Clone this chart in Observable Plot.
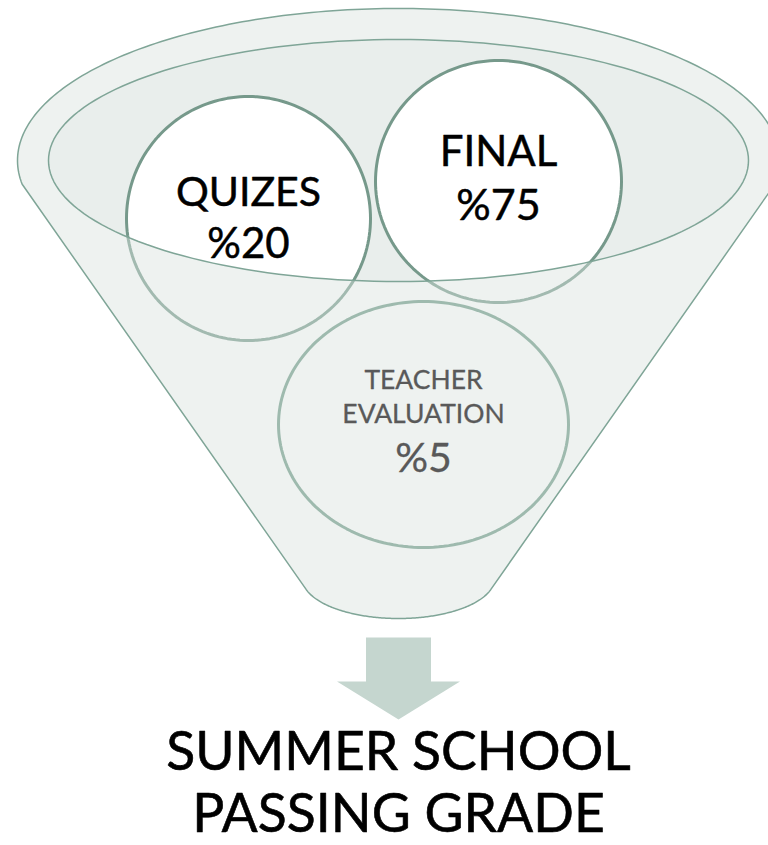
<!DOCTYPE html>
<html>
<head>
<meta charset="utf-8">
<script src="https://cdn.jsdelivr.net/npm/d3@7"></script>
<script src="https://cdn.jsdelivr.net/npm/@observablehq/plot@0.6"></script>
<style>
  html, body { margin: 0; padding: 0; background: #ffffff; overflow: hidden; }
  #chart svg { display: block; }
</style>
</head>
<body>
<div id="chart"></div>
<script>
// ---- data ----
const categories = ["QUIZES", "FINAL", "TEACHER EVALUATION"];
const weights = [20, 75, 5];
const outcomeLines = ["SUMMER SCHOOL", "PASSING GRADE"];

// ---- layout (pixels) ----
const W = 768, H = 845;
const funnel = {cx: 398, cy: 160, rx: 381, ry: 152, innerRx: 350, innerRy: 121,
                sideA0: 171, sideA1: 369, bottomCy: 578, bottomRx: 96, bottomRy: 40, bottomA0: 15, bottomA1: 165};
const bubbles = [
  {cx: 248, cy: 218, rx: 122, ry: 122, labelY: [192], pctY: 244, labelSize: 41, pctSize: 42},
  {cx: 498, cy: 181, rx: 123, ry: 121, labelY: [152], pctY: 206, labelSize: 42, pctSize: 43},
  {cx: 423, cy: 424, rx: 145, ry: 123, labelY: [380, 414], pctY: 458, labelSize: 26.5, pctSize: 41}
];
const arrow = {cx: 398, top: 637, shaftHalf: 32.5, headY: 681, headHalf: 61.5, tip: 719};
const titleY = [752, 814];
const titleSize = 53.5;

// ---- styles ----
const outline = "#7fa597";
const ringFill = "#eef2f0";
const innerFill = "#e9eeec";
const bubbleStroke = "#76998b";
const teacherStroke = "#9ebaae";
const font = "Lato, 'Open Sans', 'Noto Sans', sans-serif";

function arc(cx, cy, rx, ry, a0, a1, n = 180) {
  const pts = [];
  for (let i = 0; i <= n; i++) {
    const t = (a0 + (a1 - a0) * i / n) * Math.PI / 180;
    pts.push({x: cx + rx * Math.cos(t), y: cy + ry * Math.sin(t)});
  }
  return pts;
}

// funnel outline: upper arc of outer ellipse + sides + rounded bottom
const outerPts = arc(funnel.cx, funnel.cy, funnel.rx, funnel.ry, funnel.sideA0, funnel.sideA1)
  .concat(arc(funnel.cx, funnel.bottomCy, funnel.bottomRx, funnel.bottomRy, funnel.bottomA0, funnel.bottomA1));
const outerClosed = outerPts.concat([outerPts[0]]);
const innerPts = arc(funnel.cx, funnel.cy, funnel.innerRx, funnel.innerRy, 0, 360);
// body with a hole where the inner ellipse is (opposite winding)
const bodyPts = outerPts.concat([outerPts[0]])
  .concat(arc(funnel.cx, funnel.cy, funnel.innerRx, funnel.innerRy, 180, -180))
  .concat([outerPts[0]]);

const bubblePts = bubbles.map(b => arc(b.cx, b.cy, b.rx, b.ry, 0, 360));

const arrowPts = [
  {x: arrow.cx - arrow.shaftHalf, y: arrow.top},
  {x: arrow.cx + arrow.shaftHalf, y: arrow.top},
  {x: arrow.cx + arrow.shaftHalf, y: arrow.headY},
  {x: arrow.cx + arrow.headHalf, y: arrow.headY},
  {x: arrow.cx, y: arrow.tip},
  {x: arrow.cx - arrow.headHalf, y: arrow.headY},
  {x: arrow.cx - arrow.shaftHalf, y: arrow.headY},
  {x: arrow.cx - arrow.shaftHalf, y: arrow.top}
];

// text rows built from data
const textRows = [];
categories.forEach((c, i) => {
  const b = bubbles[i];
  const lines = c.split(" ");
  lines.forEach((ln, j) => textRows.push({x: b.cx, y: b.labelY[j], text: ln, size: b.labelSize, dark: i < 2}));
  textRows.push({x: b.cx, y: b.pctY, text: "%" + weights[i], size: b.pctSize, dark: i < 2});
});
const titleRows = outcomeLines.map((t, i) => ({x: funnel.cx, y: titleY[i], text: t}));

const lineOpts = {x: "x", y: "y", curve: "linear"};

const marks = [
  Plot.line(innerPts, {...lineOpts, fill: innerFill, stroke: "none"}),
  Plot.line(bubblePts[0], {...lineOpts, fill: "#ffffff", stroke: bubbleStroke, strokeWidth: 3}),
  Plot.line(bubblePts[1], {...lineOpts, fill: "#ffffff", stroke: bubbleStroke, strokeWidth: 3}),
  Plot.line(bodyPts, {...lineOpts, fill: "rgb(217,226,222)", fillOpacity: 0.45, stroke: "none"}),
  Plot.line(outerClosed, {...lineOpts, stroke: outline, strokeWidth: 1.5}),
  Plot.line(innerPts, {...lineOpts, stroke: outline, strokeWidth: 1.5}),
  Plot.line(bubblePts[2], {...lineOpts, fill: ringFill, stroke: teacherStroke, strokeWidth: 3}),
  Plot.text(textRows.filter(d => d.dark), {x: "x", y: "y", text: "text", fontSize: "size", fill: "#000000",
    stroke: "#000000", strokeWidth: 0.5, fontFamily: font, textAnchor: "middle", lineAnchor: "middle"}),
  Plot.text(textRows.filter(d => !d.dark), {x: "x", y: "y", text: "text", fontSize: "size", fill: "#595959",
    stroke: "#595959", strokeWidth: 0.3, fontFamily: font, textAnchor: "middle", lineAnchor: "middle"}),
  Plot.line(arrowPts, {...lineOpts, fill: "#c5d6cf", stroke: "none"}),
  Plot.text(titleRows, {x: "x", y: "y", text: "text", fontSize: titleSize, fill: "#000000",
    stroke: "#000000", strokeWidth: 0.6, fontFamily: font, textAnchor: "middle", lineAnchor: "middle"})
];

const chart = Plot.plot({
  width: W,
  height: H,
  margin: 0,
  style: {background: "#ffffff", overflow: "hidden"},
  x: {domain: [0, W], range: [0, W], axis: null},
  y: {domain: [0, H], range: [0, H], axis: null},
  marks
});
document.getElementById("chart").appendChild(chart);
</script>
</body>
</html>
